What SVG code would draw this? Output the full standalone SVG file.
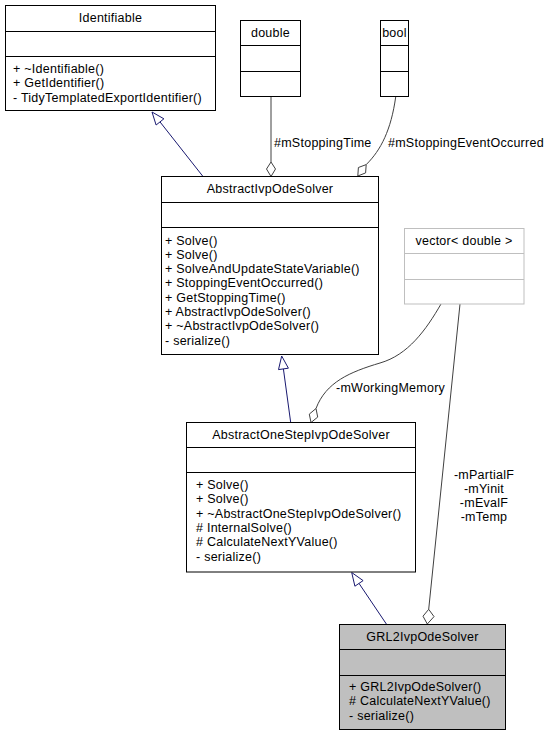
<svg xmlns="http://www.w3.org/2000/svg" width="549" height="736" viewBox="0 0 549 736">
<style>
text{font-family:"Liberation Sans",Arial,Helvetica,sans-serif;font-size:12.5px;letter-spacing:0.25px;fill:#000}
.t{text-anchor:middle}
.box{fill:#fff;stroke:#000;stroke-width:1}
.sep{stroke:#000;stroke-width:1}
.gbox{fill:#fff;stroke:#bfbfbf;stroke-width:1}
.gsep{stroke:#bfbfbf;stroke-width:1}
.cur{fill:#bfbfbf;stroke:#000;stroke-width:1}
.inh{fill:none;stroke:#191970;stroke-width:1}
.inhh{fill:#fff;stroke:#191970;stroke-width:1}
.agg{fill:none;stroke:#404040;stroke-width:1}
.aggh{fill:#fff;stroke:#404040;stroke-width:1}
.lbl{font-size:12.5px}
</style>
<g id="connectors">
  <!-- AbstractIvpOdeSolver -> Identifiable -->
  <path class="inh" d="M203,176.5 L160,121.9"/>
  <polygon class="inhh" points="152,112 163.9,118.8 156.1,125"/>
  <!-- double -> AbstractIvpOdeSolver -->
  <path class="agg" d="M271,97 L271,162"/>
  <polygon class="aggh" points="271,162 275.5,169 271,176.5 266.5,169"/>
  <text x="274" y="147" class="lbl">#mStoppingTime</text>
  <!-- bool -> AbstractIvpOdeSolver -->
  <path class="agg" d="M395.7,97 C391,130 381,150 366.2,164.6"/>
  <polygon class="aggh" points="366.2,164.6 365.6,172.9 357.8,176 358.4,167.5"/>
  <text x="388" y="147" class="lbl">#mStoppingEventOccurred</text>
  <!-- AbstractOneStepIvpOdeSolver -> AbstractIvpOdeSolver -->
  <path class="inh" d="M290.7,422.5 L283.4,368.9"/>
  <polygon class="inhh" points="281.7,356 288.4,368.2 278.5,369.6"/>
  <!-- vector -> AbstractOneStepIvpOdeSolver -->
  <path class="agg" d="M441,304 C426,330 408,355 380,363 C350,372 326,382 316,408.5"/>
  <polygon class="aggh" points="316,408.5 317.7,417.1 311,422.5 309.3,414.1"/>
  <text x="336" y="391.5" class="lbl">-mWorkingMemory</text>
  <!-- GRL2IvpOdeSolver -> AbstractOneStepIvpOdeSolver -->
  <path class="inh" d="M386.7,624.5 L359,583.4"/>
  <polygon class="inhh" points="351.7,572.5 363.1,580.6 354.9,586.2"/>
  <!-- vector -> GRL2IvpOdeSolver -->
  <path class="agg" d="M460,304 L428.7,609.3"/>
  <polygon class="aggh" points="428.7,609.3 434,616.6 427.3,624 423,616.2"/>
  <text x="484" y="478.5" class="lbl t">-mPartialF</text>
  <text x="484" y="492.8" class="lbl t">-mYinit</text>
  <text x="484" y="507.1" class="lbl t">-mEvalF</text>
  <text x="484" y="521.4" class="lbl t">-mTemp</text>
</g>
<g id="Identifiable">
  <rect class="box" x="5.5" y="5.5" width="210" height="105"/>
  <line class="sep" x1="5.5" y1="31.5" x2="215.5" y2="31.5"/>
  <line class="sep" x1="5.5" y1="56.5" x2="215.5" y2="56.5"/>
  <text x="110.5" y="22" class="t">Identifiable</text>
  <text x="13" y="73">+ ~Identifiable()</text>
  <text x="13" y="87.3">+ GetIdentifier()</text>
  <text x="13" y="101.6">- TidyTemplatedExportIdentifier()</text>
</g>
<g id="double">
  <rect class="box" x="240.5" y="20.5" width="60" height="76"/>
  <line class="sep" x1="240.5" y1="45.5" x2="300.5" y2="45.5"/>
  <line class="sep" x1="240.5" y1="71.5" x2="300.5" y2="71.5"/>
  <text x="270.5" y="37" class="t">double</text>
</g>
<g id="bool">
  <rect class="box" x="380.5" y="20.5" width="28" height="76"/>
  <line class="sep" x1="380.5" y1="45.5" x2="408.5" y2="45.5"/>
  <line class="sep" x1="380.5" y1="71.5" x2="408.5" y2="71.5"/>
  <text x="394.5" y="37" class="t">bool</text>
</g>
<g id="AbstractIvpOdeSolver">
  <rect class="box" x="161.5" y="176.5" width="217" height="178"/>
  <line class="sep" x1="161.5" y1="202.5" x2="378.5" y2="202.5"/>
  <line class="sep" x1="161.5" y1="227.5" x2="378.5" y2="227.5"/>
  <text x="270" y="193" class="t">AbstractIvpOdeSolver</text>
  <text x="165" y="244.5">+ Solve()</text>
  <text x="165" y="258.8">+ Solve()</text>
  <text x="165" y="273.1">+ SolveAndUpdateStateVariable()</text>
  <text x="165" y="287.4">+ StoppingEventOccurred()</text>
  <text x="165" y="301.7">+ GetStoppingTime()</text>
  <text x="165" y="316">+ AbstractIvpOdeSolver()</text>
  <text x="165" y="330.3">+ ~AbstractIvpOdeSolver()</text>
  <text x="165" y="344.6">- serialize()</text>
</g>
<g id="vector_double">
  <rect class="gbox" x="404.5" y="228.5" width="119.5" height="75.5"/>
  <line class="gsep" x1="404.5" y1="253.5" x2="524" y2="253.5"/>
  <line class="gsep" x1="404.5" y1="279.5" x2="524" y2="279.5"/>
  <text x="464" y="245" class="t">vector&lt; double &gt;</text>
</g>
<g id="AbstractOneStepIvpOdeSolver">
  <rect class="box" x="186.5" y="422.5" width="229" height="149.5"/>
  <line class="sep" x1="186.5" y1="447.5" x2="415.5" y2="447.5"/>
  <line class="sep" x1="186.5" y1="472.5" x2="415.5" y2="472.5"/>
  <text x="301" y="439" class="t">AbstractOneStepIvpOdeSolver</text>
  <text x="196" y="489">+ Solve()</text>
  <text x="196" y="503.3">+ Solve()</text>
  <text x="196" y="517.6">+ ~AbstractOneStepIvpOdeSolver()</text>
  <text x="196" y="531.9"># InternalSolve()</text>
  <text x="196" y="546.2"># CalculateNextYValue()</text>
  <text x="196" y="560.5">- serialize()</text>
</g>
<g id="GRL2IvpOdeSolver">
  <rect class="cur" x="339.5" y="624.5" width="166" height="105"/>
  <line class="sep" x1="339.5" y1="649.5" x2="505.5" y2="649.5"/>
  <line class="sep" x1="339.5" y1="675.5" x2="505.5" y2="675.5"/>
  <text x="422.5" y="641" class="t">GRL2IvpOdeSolver</text>
  <text x="349" y="691">+ GRL2IvpOdeSolver()</text>
  <text x="349" y="705.3"># CalculateNextYValue()</text>
  <text x="349" y="719.6">- serialize()</text>
</g>
</svg>
